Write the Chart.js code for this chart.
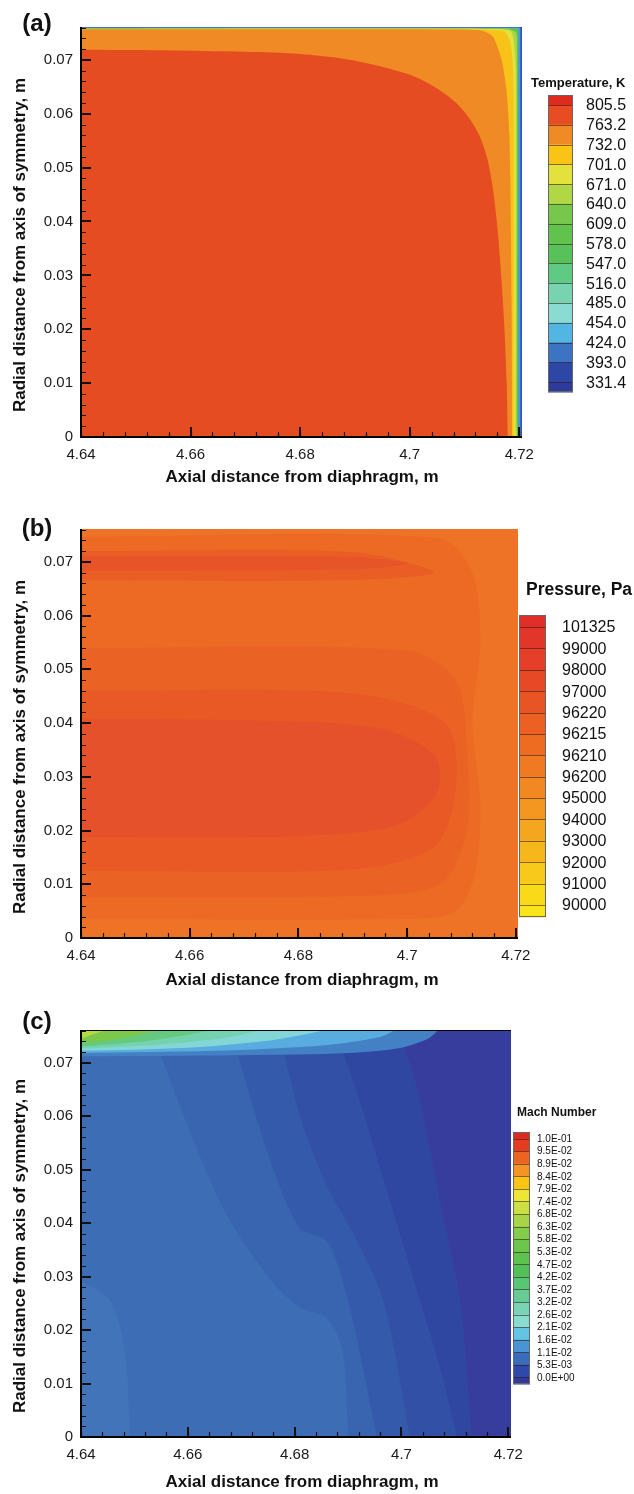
<!DOCTYPE html>
<html><head><meta charset="utf-8">
<script src="https://cdn.jsdelivr.net/npm/chart.js@4.4.1/dist/chart.umd.min.js"></script>
<style>
html,body{margin:0;padding:0;background:#fff}
body{width:634px;height:1494px;position:relative;overflow:hidden}
canvas.panel{position:absolute;left:0}
</style></head>
<body>
<canvas id="chartA" class="panel" style="top:0px" width="634" height="495"></canvas>
<canvas id="chartB" class="panel" style="top:495px" width="634" height="495"></canvas>
<canvas id="chartC" class="panel" style="top:990px" width="634" height="504"></canvas>
<script>
// ---------------- shared axis data ----------------
const xTickValues = [4.64, 4.66, 4.68, 4.70, 4.72];
const xTickLabels = ['4.64', '4.66', '4.68', '4.7', '4.72'];
const yTickValues = [0, 0.01, 0.02, 0.03, 0.04, 0.05, 0.06, 0.07];
const yTickLabels = ['0', '0.01', '0.02', '0.03', '0.04', '0.05', '0.06', '0.07'];
const xMinorStep = 0.004;
const yMinorStep = 0.002;
const xAxisTitle = 'Axial distance from diaphragm, m';
const yAxisTitle = 'Radial distance from axis of symmetry, m';

// ---------------- (a) temperature ----------------
const tempLegendLabels = ['805.5','763.2','732.0','701.0','671.0','640.0','609.0','578.0','547.0','516.0','485.0','454.0','424.0','393.0','331.4'];
const tempLegendColors = ['#e0291f','#e84c22','#f08a25','#f9c416','#e3e23c','#b2d746','#76c74c','#62c24e','#58c15a','#5fca84','#78d3b0','#8adcd2','#52b5e2','#3c73c2','#2e46a6','#2f3b9a'];
const tempField = [[4.64,0.0762],[4.7206,0.0762],[4.7206,0]];
const tempContour424 = [[4.64,0.0760],[4.7202,0.0760],[4.7202,0]];
const tempContour578 = [[4.64,0.07585],[4.7198,0.07585],[4.7198,0]];
const tempContour640 = [[4.64,0.0758],[4.7175,0.0758],[4.7193,0.0752],[4.7196,0.0740],[4.7196,0]];
const tempContour671 = [[4.64,0.07575],[4.714,0.07575],[4.7184,0.0754],[4.7190,0.0735],[4.7193,0.0700],[4.7194,0.066],[4.7194,0]];
const tempContour701 = [[4.64,0.0757],[4.711,0.0757],[4.7172,0.0753],[4.7183,0.0735],[4.7187,0.0710],[4.7189,0.0670],[4.7190,0.060],[4.7190,0]];
const tempContour732 = [[4.64,0.07565],[4.705,0.07565],[4.7128,0.0755],[4.7150,0.0745],[4.7160,0.0725],[4.7169,0.0695],[4.7177,0.0640],[4.7182,0.0560],[4.7184,0.045],[4.7186,0.025],[4.7187,0]];
const tempContour763 = [[4.64,0.0719],[4.655,0.0718],[4.67,0.0715],[4.68,0.0711],[4.688,0.0702],[4.6946,0.0688],[4.7006,0.0670],[4.7050,0.0647],[4.7085,0.0620],[4.7110,0.0590],[4.7128,0.0558],[4.7142,0.0515],[4.7152,0.0460],[4.7160,0.0390],[4.7167,0.0300],[4.7173,0.0200],[4.7177,0.0100],[4.7179,0]];

// ---------------- (b) pressure ----------------
const pressLegendLabels = ['101325','99000','98000','97000','96220','96215','96210','96200','95000','94000','93000','92000','91000','90000'];
const pressLegendColors = ['#e12e29','#e3362a','#e53f2a','#e74927','#e95425','#ec6023','#ee6c22','#f07a22','#f28822','#f39720','#f4a71e','#f6b71c','#f8c91a','#f9d918','#fae41a'];
const pressField = [[4.64,0.0762],[4.7204,0.0762],[4.7204,0]];
const pressContour1 = [[4.64,0.0035],[4.70,0.0036],[4.709,0.005],[4.7125,0.012],[4.7135,0.025],[4.712,0.040],[4.7135,0.055],[4.712,0.068],[4.706,0.0744],[4.64,0.0747]];
const pressContour2a = [[4.64,0.0075],[4.69,0.0078],[4.706,0.010],[4.711,0.020],[4.711,0.035],[4.709,0.048],[4.70,0.0535],[4.64,0.054]];
const pressContour2b = [[4.64,0.0665],[4.69,0.0666],[4.705,0.068],[4.69,0.0718],[4.64,0.0720]];
const pressContour3a = [[4.64,0.0125],[4.69,0.0128],[4.705,0.017],[4.709,0.028],[4.707,0.040],[4.69,0.0455],[4.64,0.046]];
const pressContour3b = [[4.64,0.0683],[4.69,0.0686],[4.70,0.0697],[4.69,0.0709],[4.64,0.0711]];
const pressContour4 = [[4.64,0.0188],[4.68,0.0190],[4.698,0.021],[4.7055,0.027],[4.705,0.034],[4.695,0.039],[4.67,0.0405],[4.64,0.0408]];

// ---------------- (c) Mach number ----------------
const machLegendLabels = ['1.0E-01','9.5E-02','8.9E-02','8.4E-02','7.9E-02','7.4E-02','6.8E-02','6.3E-02','5.8E-02','5.3E-02','4.7E-02','4.2E-02','3.7E-02','3.2E-02','2.6E-02','2.1E-02','1.6E-02','1.1E-02','5.3E-03','0.0E+00'];
const machLegendColors = ['#e0281e','#e43c20','#ec6422','#f39424','#fbc414','#ede636','#cce044','#a8d44a','#84cc4c','#6cc64c','#5ec24e','#52c058','#58c674','#66cc94','#78d4b4','#88dcd0','#64c4e4','#4894d4','#3a6cbc','#3048a8','#33399a'];
const machField = [[4.64,0.0762],[4.7205,0.0762],[4.7205,0]];
const machContour1 = [[4.6997,0.0762],[4.7035,0.0628],[4.7072,0.0441],[4.7110,0.0255],[4.7132,0]];
const machContour2 = [[4.6876,0.0762],[4.6922,0.0628],[4.6969,0.0473],[4.7016,0.0317],[4.7072,0.0130],[4.7104,0]];
const machContour3 = [[4.677,0.0762],[4.681,0.060],[4.686,0.047],[4.691,0.038],[4.6966,0.0255],[4.7016,0]];
const machContour4 = [[4.668,0.0762],[4.675,0.053],[4.681,0.039],[4.686,0.0367],[4.690,0.0255],[4.6954,0]];
const machContour5 = [[4.653,0.0762],[4.666,0.044],[4.675,0.030],[4.681,0.0242],[4.686,0.0223],[4.689,0.016],[4.690,0]];
const machContour6 = [[4.64,0.0292],[4.6454,0.0255],[4.6482,0.0162],[4.6492,0]];
const machStrip1 = [[4.64,0.0712],[4.67,0.0714],[4.69,0.0718],[4.700,0.0728],[4.705,0.0745],[4.707,0.0762]];
const machStrip2 = [[4.64,0.0718],[4.665,0.0722],[4.685,0.0732],[4.696,0.0748],[4.699,0.0762]];
const machStrip3 = [[4.64,0.0722],[4.66,0.0728],[4.675,0.0741],[4.683,0.0755],[4.686,0.0762]];
const machStrip4 = [[4.64,0.0726],[4.655,0.0734],[4.668,0.0748],[4.674,0.0762]];
const machStrip5 = [[4.64,0.0730],[4.652,0.0740],[4.661,0.0754],[4.665,0.0762]];
const machStrip6 = [[4.64,0.0736],[4.648,0.0746],[4.655,0.0762]];
const machStrip7 = [[4.64,0.0745],[4.645,0.0762]];

// ---------------- drawing helpers ----------------
const FONT = "'Liberation Sans', Arial, Helvetica, sans-serif";

const fieldPlugin = {
  id: 'contourField',
  beforeDatasetsDraw(chart) {
    const ctx = chart.ctx, a = chart.chartArea;
    const xs = chart.scales.x, ys = chart.scales.y;
    ctx.save();
    ctx.beginPath();
    ctx.rect(a.left, a.top, a.right - a.left, a.bottom - a.top);
    ctx.clip();
    chart.data.datasets.forEach((ds, i) => {
      const meta = chart.getDatasetMeta(i);
      const line = meta.dataset;
      ctx.beginPath();
      if (line && typeof line.path === 'function') {
        line.updateControlPoints(a, 'x');
        line.path(ctx);
      } else {
        meta.data.forEach((p, k) => k ? ctx.lineTo(p.x, p.y) : ctx.moveTo(p.x, p.y));
      }
      (ds.closeVia || []).forEach(([x, y]) => ctx.lineTo(xs.getPixelForValue(x), ys.getPixelForValue(y)));
      ctx.closePath();
      ctx.fillStyle = ds.backgroundColor;
      ctx.fill();
    });
    ctx.restore();
  }
};

const axisPlugin = {
  id: 'innerAxes',
  afterDatasetsDraw(chart, args, opts) {
    const ctx = chart.ctx, a = chart.chartArea;
    const xs = chart.scales.x, ys = chart.scales.y;
    ctx.save();
    ctx.strokeStyle = '#111';
    ctx.lineWidth = 1.2;
    ctx.beginPath();
    for (let k = 0; xs.min + k * xMinorStep <= xs.max + 1e-9; k++) {
      const px = Math.round(xs.getPixelForValue(xs.min + k * xMinorStep)) + 0.5;
      ctx.moveTo(px, a.bottom); ctx.lineTo(px, a.bottom - 5);
    }
    for (let k = 0; ys.min + k * yMinorStep <= ys.max + 1e-9; k++) {
      const py = Math.round(ys.getPixelForValue(ys.min + k * yMinorStep)) + 0.5;
      ctx.moveTo(a.left, py); ctx.lineTo(a.left + 5, py);
    }
    ctx.stroke();
    ctx.lineWidth = 2;
    ctx.beginPath();
    xTickValues.forEach(v => {
      const px = Math.round(xs.getPixelForValue(v));
      ctx.moveTo(px, a.bottom); ctx.lineTo(px, a.bottom - 10);
    });
    yTickValues.forEach(v => {
      const py = Math.round(ys.getPixelForValue(v));
      ctx.moveTo(a.left, py); ctx.lineTo(a.left + 10, py);
    });
    ctx.stroke();
    ctx.lineWidth = 2;
    ctx.strokeStyle = '#000';
    ctx.beginPath();
    ctx.moveTo(a.left, a.top); ctx.lineTo(a.left, a.bottom); ctx.lineTo(a.right, a.bottom);
    ctx.stroke();
    if (opts && opts.topLine) {
      ctx.lineWidth = 1.2;
      ctx.beginPath();
      ctx.moveTo(a.left, a.top + 0.5); ctx.lineTo(a.right, a.top + 0.5);
      ctx.stroke();
    }
    ctx.restore();
  }
};

const annotPlugin = {
  id: 'panelText',
  afterDraw(chart, args, o) {
    const ctx = chart.ctx;
    ctx.save();
    ctx.fillStyle = '#111';
    ctx.font = 'bold 24px ' + FONT;
    ctx.textAlign = 'center'; ctx.textBaseline = 'middle';
    ctx.fillText(o.letter, o.letterX, o.letterY);
    ctx.font = 'bold 17px ' + FONT;
    ctx.fillText(xAxisTitle, o.xTitleX, o.xTitleY);
    ctx.save();
    ctx.translate(o.yTitleX, o.yTitleY);
    ctx.rotate(-Math.PI / 2);
    ctx.fillText(yAxisTitle, 0, 0);
    ctx.restore();
    const cb = o.cbar;
    const nMid = cb.labels.length - 1;
    const h = (cb.bottom - cb.top) / (nMid + 2 * cb.endFrac);
    const bounds = [cb.top];
    for (let k = 0; k <= nMid; k++) bounds.push(cb.top + h * cb.endFrac + k * h);
    bounds.push(cb.bottom);
    cb.colors.forEach((c, k) => {
      ctx.fillStyle = c;
      ctx.fillRect(cb.x, bounds[k], cb.w, bounds[k + 1] - bounds[k] + 0.5);
    });
    ctx.strokeStyle = 'rgba(40,20,10,0.55)';
    ctx.lineWidth = 1;
    ctx.beginPath();
    for (let k = 1; k < bounds.length - 1; k++) {
      const y = Math.round(bounds[k]) + 0.5;
      ctx.moveTo(cb.x, y); ctx.lineTo(cb.x + cb.w, y);
    }
    ctx.stroke();
    ctx.strokeStyle = '#666';
    ctx.strokeRect(cb.x + 0.5, cb.top + 0.5, cb.w - 1, cb.bottom - cb.top - 1);
    ctx.fillStyle = '#111';
    ctx.font = cb.font + ' ' + FONT;
    ctx.textAlign = 'left'; ctx.textBaseline = 'middle';
    cb.labels.forEach((t, k) => ctx.fillText(t, cb.labelX, bounds[k + 1] + cb.labelDy));
    ctx.font = cb.titleFont + ' ' + FONT;
    ctx.fillText(cb.title, cb.titleX, cb.titleY);
    ctx.restore();
  }
};

function buildPanel(id, spec) {
  const canvas = document.getElementById(id);
  const W = canvas.width, H = canvas.height, a = spec.area;
  const datasets = spec.regions.map(r => ({
    data: r.pts.map(p => ({x: p[0], y: p[1]})),
    backgroundColor: r.color,
    borderColor: r.color,
    showLine: false,
    pointRadius: 0,
    pointHoverRadius: 0,
    tension: r.tension === undefined ? 0.3 : r.tension,
    closeVia: r.close || []
  }));
  const tickFont = {family: FONT, size: 15};
  return new Chart(canvas, {
    type: 'line',
    data: {datasets},
    plugins: [fieldPlugin, axisPlugin, annotPlugin],
    options: {
      responsive: false,
      animation: false,
      devicePixelRatio: 1,
      events: [],
      layout: {padding: {left: 0, top: a.top, right: W - a.right, bottom: 0}},
      plugins: {
        legend: {display: false},
        tooltip: {enabled: false},
        innerAxes: {topLine: !!spec.topLine},
        panelText: spec.text
      },
      scales: {
        x: {
          type: 'linear', min: spec.xMin, max: spec.xMax,
          afterBuildTicks: s => { s.ticks = xTickValues.map(v => ({value: v})); },
          afterFit: s => { s.height = H - a.bottom; },
          ticks: {callback: (v, i) => xTickLabels[i], font: tickFont, color: '#1a1a1a', padding: 9, maxRotation: 0, autoSkip: false},
          grid: {display: false, drawTicks: false},
          border: {display: false}
        },
        y: {
          type: 'linear', min: 0, max: spec.yMax,
          afterBuildTicks: s => { s.ticks = yTickValues.map(v => ({value: v})); },
          afterFit: s => { s.width = a.left; },
          ticks: {callback: (v, i) => yTickLabels[i], font: tickFont, color: '#1a1a1a', padding: 8, autoSkip: false},
          grid: {display: false, drawTicks: false},
          border: {display: false}
        }
      }
    }
  });
}

const LEFTB = [[4.64, 0]];
const LEFTTOP = [[4.64, 0.0762]];
const LEFTCORNERS = [[4.64, 0], [4.64, 0.0762]];

buildPanel('chartA', {
  area: {left: 81, top: 27, right: 522, bottom: 437},
  xMin: 4.64, xMax: 4.7205, yMax: 0.0761,
  regions: [
    {pts: tempField, color: '#3452b8', tension: 0, close: LEFTB},
    {pts: tempContour424, color: '#4c98d8', tension: 0, close: LEFTB},
    {pts: tempContour578, color: '#5cc35a', tension: 0, close: LEFTB},
    {pts: tempContour640, color: '#a6d548', tension: 0.2, close: LEFTB},
    {pts: tempContour671, color: '#e2e23e', tension: 0.2, close: LEFTB},
    {pts: tempContour701, color: '#f8c318', tension: 0.2, close: LEFTB},
    {pts: tempContour732, color: '#f08a25', tension: 0.25, close: LEFTB},
    {pts: tempContour763, color: '#e64c21', tension: 0.3, close: LEFTB}
  ],
  text: {
    letter: '(a)', letterX: 37, letterY: 24,
    xTitleX: 302, xTitleY: 477, yTitleX: 20, yTitleY: 245,
    cbar: {x: 548, w: 25, top: 95, bottom: 392, endFrac: 0.5, labels: tempLegendLabels, colors: tempLegendColors,
           labelX: 586, labelDy: 1, font: '16px', title: 'Temperature, K', titleFont: 'bold 13px', titleX: 531, titleY: 83}
  }
});

buildPanel('chartB', {
  area: {left: 81, top: 34, right: 518, bottom: 443},
  xMin: 4.64, xMax: 4.7204, yMax: 0.0761,
  regions: [
    {pts: pressField, color: '#ef7326', tension: 0, close: LEFTB},
    {pts: pressContour1, color: '#ed6a24', tension: 0.3},
    {pts: pressContour2a, color: '#eb6225', tension: 0.3},
    {pts: pressContour2b, color: '#ea5e25', tension: 0.3},
    {pts: pressContour3a, color: '#e85926', tension: 0.3},
    {pts: pressContour3b, color: '#e65427', tension: 0.3},
    {pts: pressContour4, color: '#e5512a', tension: 0.3}
  ],
  text: {
    letter: '(b)', letterX: 37, letterY: 34,
    xTitleX: 302, xTitleY: 485, yTitleX: 20, yTitleY: 252,
    cbar: {x: 519, w: 27, top: 120, bottom: 422, endFrac: 0.56, labels: pressLegendLabels, colors: pressLegendColors,
           labelX: 562, labelDy: 1, font: '16px', title: 'Pressure, Pa', titleFont: 'bold 17.5px', titleX: 526, titleY: 95}
  }
});

buildPanel('chartC', {
  area: {left: 81, top: 40, right: 511, bottom: 447},
  xMin: 4.64, xMax: 4.7205, yMax: 0.0761,
  topLine: true,
  regions: [
    {pts: machField, color: '#373d9c', tension: 0, close: LEFTB},
    {pts: machContour1, color: '#3047a2', close: LEFTCORNERS},
    {pts: machContour2, color: '#3150a6', close: LEFTCORNERS},
    {pts: machContour3, color: '#345aab', close: LEFTCORNERS},
    {pts: machContour4, color: '#3864b0', close: LEFTCORNERS},
    {pts: machContour5, color: '#3d6db5', close: LEFTCORNERS},
    {pts: machContour6, color: '#4274b9', close: LEFTB},
    {pts: machStrip1, color: '#4480c4', close: LEFTTOP},
    {pts: machStrip2, color: '#58ace0', close: LEFTTOP},
    {pts: machStrip3, color: '#82d6d6', close: LEFTTOP},
    {pts: machStrip4, color: '#74d2ae', close: LEFTTOP},
    {pts: machStrip5, color: '#66ca7e', close: LEFTTOP},
    {pts: machStrip6, color: '#7cc84a', close: LEFTTOP},
    {pts: machStrip7, color: '#b2d944', close: LEFTTOP}
  ],
  text: {
    letter: '(c)', letterX: 37, letterY: 32,
    xTitleX: 302, xTitleY: 492, yTitleX: 20, yTitleY: 256,
    cbar: {x: 513, w: 17, top: 142, bottom: 394, endFrac: 0.52, labels: machLegendLabels, colors: machLegendColors,
           labelX: 537, labelDy: 0.5, font: '10px', title: 'Mach Number', titleFont: 'bold 12px', titleX: 517, titleY: 123}
  }
});
</script>
</body></html>
